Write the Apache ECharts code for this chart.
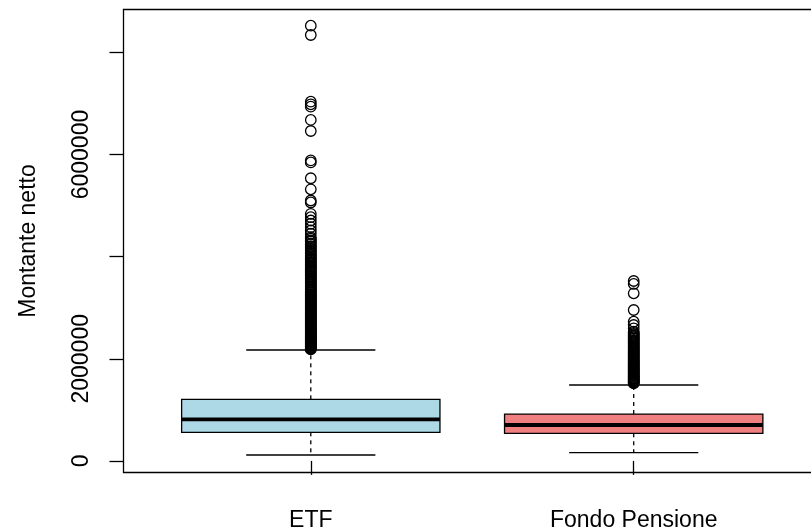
<!DOCTYPE html>
<html><head><meta charset="utf-8">
<script src="https://cdn.jsdelivr.net/npm/echarts@6/dist/echarts.min.js"></script>
<style>html,body{margin:0;padding:0;background:#fff}#c{width:811px;height:529px}</style>
</head><body><div id="c"></div>
<script>
// ---- data (values in millions) ----
const categories = ['ETF', 'Fondo Pensione'];
const boxLow    = [0.116, 0.161];
const boxQ1     = [0.560, 0.541];
const boxMedian = [0.815, 0.703];
const boxQ3     = [1.206, 0.918];
const boxHigh   = [2.172, 1.487];
const outliersETF = [
  8.523, 8.341, 7.035, 6.984, 6.937, 6.677, 6.461, 5.885, 5.846, 5.535, 5.319, 5.100, 5.061,
  4.839, 4.773, 4.708, 4.644, 4.577, 4.512, 4.448, 4.381,
  4.352, 4.318, 4.297, 4.261, 4.239, 4.204, 4.187, 4.152, 4.131, 4.109, 4.076, 4.058, 4.031, 4.012,
  3.987, 3.962, 3.944, 3.921, 3.897, 3.879, 3.853, 3.836, 3.812, 3.795, 3.771, 3.748, 3.731, 3.709,
  3.688, 3.664, 3.647, 3.625, 3.606, 3.583, 3.566, 3.541, 3.524, 3.503, 3.487, 3.462, 3.446, 3.423,
  3.405, 3.388, 3.364, 3.347, 3.329, 3.306, 3.291, 3.268, 3.252, 3.233, 3.214, 3.197, 3.176, 3.161,
  3.142, 3.123, 3.108, 3.087, 3.071, 3.052, 3.036, 3.018, 2.999, 2.983, 2.964, 2.948, 2.931, 2.912,
  2.897, 2.879, 2.861, 2.846, 2.828, 2.811, 2.796, 2.778, 2.762, 2.745, 2.729, 2.712, 2.697, 2.679,
  2.664, 2.648, 2.632, 2.616, 2.601, 2.584, 2.569, 2.553, 2.538, 2.522, 2.507, 2.491, 2.477, 2.461,
  2.446, 2.431, 2.416, 2.401, 2.387, 2.372, 2.358, 2.343, 2.329, 2.314, 2.301, 2.287, 2.273, 2.259,
  2.246, 2.232, 2.219, 2.206, 2.194, 2.183
];
const outliersFondo = [
  3.523, 3.465, 3.282, 2.955, 2.726, 2.662, 2.597,
  2.531, 2.508, 2.487, 2.462, 2.441, 2.418, 2.397, 2.372, 2.353, 2.331, 2.308, 2.289, 2.266, 2.247,
  2.224, 2.206, 2.185, 2.163, 2.144, 2.122, 2.104, 2.083, 2.064, 2.043, 2.026, 2.005, 1.987, 1.968,
  1.949, 1.931, 1.912, 1.895, 1.876, 1.859, 1.841, 1.824, 1.806, 1.790, 1.772, 1.756, 1.739, 1.723,
  1.707, 1.691, 1.675, 1.660, 1.644, 1.629, 1.614, 1.600, 1.585, 1.571, 1.557, 1.544, 1.531, 1.519
];
const yTickValues  = [0, 2000000, 4000000, 6000000, 8000000];
const yLabelValues = [0, 2000000, 6000000];
const xTickValues  = [1, 2];
const boxColors = ['#ADD8E6', '#F08080'];
const M = 1e6;

// ---- build ----
const boxData = categories.map((c, i) => [i + 1, boxLow[i] * M, boxQ1[i] * M, boxMedian[i] * M, boxQ3[i] * M, boxHigh[i] * M]);
const outData = [];
outliersETF.forEach(v => outData.push([1, v * M]));
outliersFondo.forEach(v => outData.push([2, v * M]));

const LW = 1.3;
function renderItem(params, api) {
  const x = api.value(0);
  const lo = api.value(1), q1 = api.value(2), md = api.value(3), q3 = api.value(4), hi = api.value(5);
  const bw = 0.4, sw = 0.2;
  const c = (xx, yy) => api.coord([xx, yy]);
  const line = (a, b, style) => ({ type: 'line', shape: { x1: a[0], y1: a[1], x2: b[0], y2: b[1] }, style: style });
  const solid = { stroke: '#000', lineWidth: LW };
  const dashed = { stroke: '#000', lineWidth: LW, lineDash: [4, 4] };
  const tl = c(x - bw, q3), br = c(x + bw, q1);
  return {
    type: 'group',
    children: [
      line(c(x, q3), c(x, hi), dashed),
      line(c(x, q1), c(x, lo), dashed),
      line(c(x - sw, hi), c(x + sw, hi), solid),
      line(c(x - sw, lo), c(x + sw, lo), solid),
      { type: 'rect', shape: { x: tl[0], y: tl[1], width: br[0] - tl[0], height: br[1] - tl[1] },
        style: { fill: boxColors[params.dataIndex], stroke: '#000', lineWidth: LW } },
      line(c(x - bw, md), c(x + bw, md), { stroke: '#000', lineWidth: 3.8 })
    ]
  };
}

const FONT = 'Liberation Sans, Arial, Helvetica, sans-serif';
const chart = echarts.init(document.getElementById('c'), null, { renderer: 'canvas' });
chart.setOption({
  animation: false,
  backgroundColor: '#fff',
  grid: { left: 123.5, top: 9.5, width: 697.5, height: 463, show: true, borderColor: '#000', borderWidth: LW,
          backgroundColor: 'transparent', containLabel: false, outerBoundsMode: 'none' },
  xAxis: {
    type: 'value', min: 0.42, max: 2.58,
    axisLine: { show: false }, splitLine: { show: false },
    axisTick: { show: true, customValues: xTickValues, length: 14, lineStyle: { color: '#000', width: LW } },
    axisLabel: { customValues: xTickValues, formatter: v => categories[Math.round(v) - 1],
                 fontSize: 23, color: '#000', fontFamily: FONT, margin: 37 }
  },
  yAxis: {
    type: 'value', min: -227000, max: 8840000,
    name: 'Montante netto', nameLocation: 'middle', nameGap: 83, nameRotate: 90,
    nameTextStyle: { fontSize: 23, color: '#000', fontFamily: FONT },
    axisLine: { show: false }, splitLine: { show: false },
    axisTick: { show: true, customValues: yTickValues, length: 14, lineStyle: { color: '#000', width: LW } },
    axisLabel: { customValues: yLabelValues, rotate: 90, formatter: v => String(Math.round(v)),
                 fontSize: 23, color: '#000', fontFamily: FONT, margin: 30 }
  },
  series: [
    { type: 'custom', renderItem: renderItem, data: boxData, encode: { x: 0, y: [1, 2, 3, 4, 5] }, silent: true, z: 2 },
    { type: 'scatter', data: outData, symbol: 'circle', symbolSize: 10.5, silent: true, z: 3,
      itemStyle: { color: 'rgba(0,0,0,0)', borderColor: '#000', borderWidth: LW, opacity: 1 } }
  ]
});
</script></body></html>
